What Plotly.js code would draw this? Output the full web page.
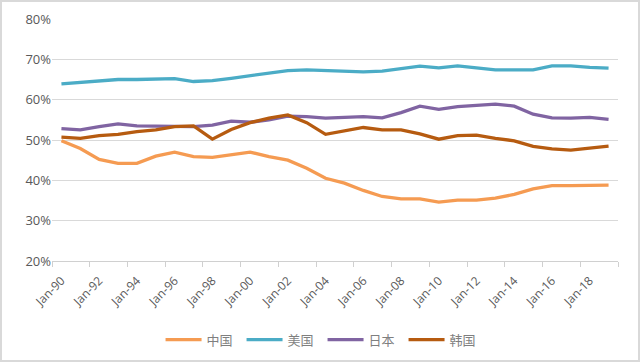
<!DOCTYPE html>
<html>
<head>
<meta charset="utf-8">
<script src="https://cdn.plot.ly/plotly-3.0.1.min.js"></script>
<style>
html,body{margin:0;padding:0;background:#fff;}
#wrap{position:relative;width:640px;height:362px;}
#chart{width:640px;height:362px;}
#frame{position:absolute;left:0;top:0;width:640px;height:362px;box-sizing:border-box;border:2px solid #d9d9d9;pointer-events:none;}
</style>
</head>
<body>
<div id="wrap"><div id="chart"></div><div id="frame"></div></div>
<script>
const years = [1990,1991,1992,1993,1994,1995,1996,1997,1998,1999,2000,2001,2002,2003,2004,2005,2006,2007,2008,2009,2010,2011,2012,2013,2014,2015,2016,2017,2018,2019];
const china = [49.8,47.9,45.2,44.2,44.2,46.0,47.0,45.9,45.7,46.3,47.0,45.9,45.0,43.0,40.5,39.3,37.5,36.0,35.4,35.4,34.6,35.1,35.1,35.6,36.5,37.9,38.7,38.7,38.7,38.8];
const usa   = [63.9,64.2,64.7,65.0,65.0,65.2,65.2,64.5,64.7,65.3,65.9,66.7,67.2,67.4,67.2,67.2,66.9,67.1,67.8,68.3,67.9,68.4,67.9,67.4,67.4,67.4,68.4,68.4,68.0,67.8];
const japan = [52.8,52.5,53.3,54.0,53.5,53.5,53.4,53.3,53.7,54.7,54.4,55.0,55.9,55.8,55.4,55.5,55.8,55.5,56.8,58.4,57.6,58.3,58.7,58.9,58.4,56.4,55.5,55.4,55.6,55.1];
const korea = [50.7,50.4,51.1,51.4,52.1,52.5,53.3,53.5,50.2,52.6,54.3,55.4,56.2,54.3,51.4,52.2,53.1,52.5,52.5,51.5,50.2,51.1,51.2,50.4,49.8,48.4,47.8,47.5,47.9,48.5];
const names = ['中国','美国','日本','韩国'];
const colors = ['#F59B52','#4BACC6','#8064A2','#B65B10'];
const labelYears = [1990,1992,1994,1996,1998,2000,2002,2004,2006,2008,2010,2012,2014,2016,2018];
const tickLabels = ['Jan-90','Jan-92','Jan-94','Jan-96','Jan-98','Jan-00','Jan-02','Jan-04','Jan-06','Jan-08','Jan-10','Jan-12','Jan-14','Jan-16','Jan-18'];
const tickBounds = [1989.5,1991.5,1993.5,1995.5,1997.5,1999.5,2001.5,2003.5,2005.5,2007.5,2009.5,2011.5,2013.5,2015.5,2017.5,2019.5];
const yTicks = [20,30,40,50,60,70,80];

const series = [china, usa, japan, korea];
const traces = series.map((s,i)=>({
  x: years, y: s, name: names[i], type:'scatter', mode:'lines',
  line:{color:colors[i], width:3.3}
}));

const layout = {
  width:640, height:362,
  margin:{l:52, r:22, t:19, b:101, autoexpand:false},
  paper_bgcolor:'#fff', plot_bgcolor:'#fff',
  font:{family:'"Open Sans", "Noto Sans CJK SC", sans-serif', color:'#595959', size:12},
  showlegend:true,
  legend:{orientation:'h', x:0.478, xanchor:'center', y:-0.325, yanchor:'middle',
    font:{family:'"Noto Sans CJK SC", sans-serif', size:13, color:'#7f7f7f'},
    entrywidth:30, entrywidthmode:'pixels', itemwidth:36, tracegroupgap:0},
  xaxis:{range:[1989.5,2019.5], tickmode:'array', tickvals:labelYears, ticktext:tickLabels, automargin:false,
    tickangle:-45, showgrid:false, zeroline:false, showline:true, linecolor:'#d0d0d0', linewidth:1,
    ticks:'', ticklabelstandoff:7, tickfont:{size:12, color:'#595959'}, fixedrange:true,
    minor:{tickmode:'array', tickvals:tickBounds, ticks:'outside', ticklen:5, tickcolor:'#d0d0d0', showgrid:false}},
  yaxis:{range:[20,80], tickmode:'array', tickvals:yTicks, ticktext:yTicks.map(v=>v+'%'), automargin:false,
    showgrid:true, gridcolor:'#d9d9d9', gridwidth:1, zeroline:false, showline:false,
    ticks:'', tickfont:{size:13, color:'#595959'}, fixedrange:true}
};
Plotly.newPlot('chart', traces, layout, {displayModeBar:false, staticPlot:true});
</script>
</body>
</html>
